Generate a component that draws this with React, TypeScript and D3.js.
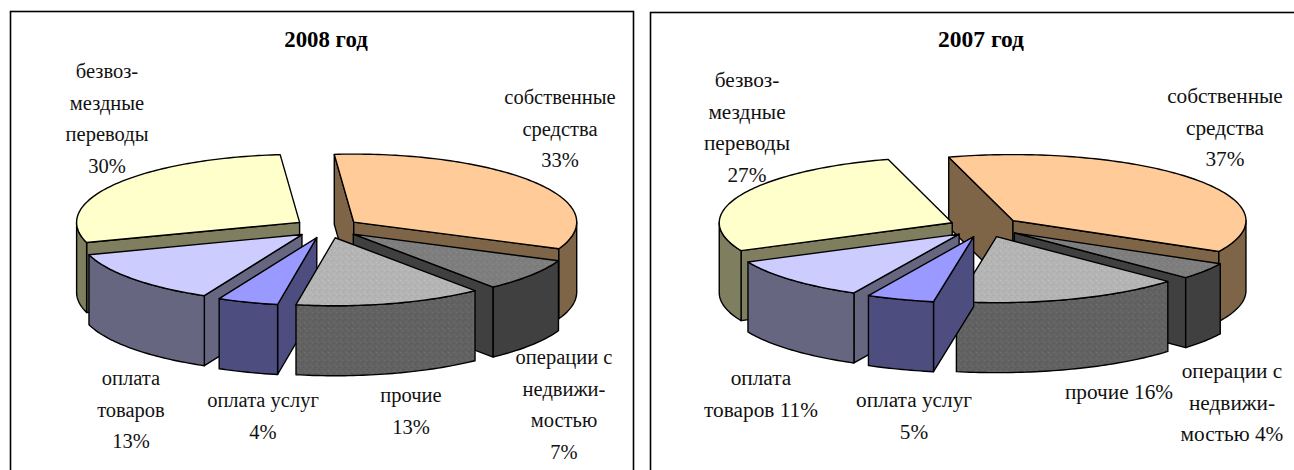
import React from 'react';
import * as d3 from 'd3';

const WIDTH = 1294;
const HEIGHT = 470;

const categories = ['собственные средства', 'операции с недвижимостью', 'прочие', 'оплата услуг', 'оплата товаров', 'безвозмездные переводы'];
// Slice shares (the printed labels are rounded).
const shares2008 = [32.8, 7.8, 13.6, 4.4, 13.0, 28.4];
const shares2007 = [37.2, 4.1, 15.9, 4.7, 10.6, 27.5];
const titles = ['2008 год', '2007 год'];

const labelLines2008 = [
  ['собственные', 'средства', '33%'],
  ['операции с', 'недвижи-', 'мостью', '7%'],
  ['прочие', '13%'],
  ['оплата услуг', '4%'],
  ['оплата', 'товаров', '13%'],
  ['безвоз-', 'мездные', 'переводы', '30%'],
];
const labelLines2007 = [
  ['собственные', 'средства', '37%'],
  ['операции с', 'недвижи-', 'мостью 4%'],
  ['прочие 16%'],
  ['оплата услуг', '5%'],
  ['оплата', 'товаров 11%'],
  ['безвоз-', 'мездные', 'переводы', '27%'],
];

const topFills = ['#FFCC99', 'url(#texOpsTop)', 'url(#texOtherTop)', '#9999FF', '#CCCCFF', '#FFFFCC'];
const sideFills = ['#7F6547', '#404040', 'url(#texOtherSide)', '#4D4D80', '#666680', '#7F7F5F'];

const layouts = [
  {
    box: [10.5, 11.5, 623, 470], cx: 327, cy: 228, rx: 223, ry: 68, depth: 70, explode: 33, startDeg: -5,
    titleX: 326, titleSize: 22.8, labelSize: 20.5,
    labelAt: [[560, 98], [564, 358], [411, 396], [263, 401], [131, 379], [107, 72]],
    lineGap: 31.5,
  },
  {
    box: [650.5, 12.5, 660, 470], cx: 985, cy: 227, rx: 233, ry: 66, depth: 70, explode: 36, startDeg: -16,
    titleX: 981, titleSize: 23.5, labelSize: 21.3,
    labelAt: [[1225, 97], [1232, 372], [1119, 393], [914, 401], [761, 379], [747, 81]],
    lineGap: 31.5,
  },
];

const toRad = (d: number) => (d * Math.PI) / 180;
const lineGen = d3.line<[number, number]>().x((p) => p[0]).y((p) => p[1]);

function Pie3D({ values, lines, layout, title }: any) {
  const { cx, cy, rx, ry, depth, explode, startDeg, box, titleX, titleSize, labelSize, labelAt, lineGap } = layout;
  const start = toRad(startDeg);
  const slices = d3.pie<number>().sort(null).startAngle(start).endAngle(start + 2 * Math.PI)(values);
  const k = ry / rx;

  const parts = slices.map((s: any, i: number) => {
    const mid = (s.startAngle + s.endAngle) / 2;
    const ax = cx + explode * Math.sin(mid);
    const ay = cy - explode * k * Math.cos(mid);
    const at = (a: number): [number, number] => [ax + rx * Math.sin(a), ay - ry * Math.cos(a)];
    const sweep = (a0: number, a1: number) => {
      const n = Math.max(2, Math.ceil(Math.abs(a1 - a0) / 0.02));
      return d3.range(n + 1).map((j) => at(a0 + ((a1 - a0) * j) / n));
    };
    const down = (p: [number, number]): [number, number] => [p[0], p[1] + depth];
    const apex: [number, number] = [ax, ay];
    const top = [apex, ...sweep(s.startAngle, s.endAngle)];
    const walls: [number, number][][] = [];
    const pS = at(s.startAngle);
    const pE = at(s.endAngle);
    if (pS[0] < apex[0]) walls.push([apex, pS, down(pS), down(apex)]);
    if (pE[0] > apex[0]) walls.push([pE, apex, down(apex), down(pE)]);
    const f0 = Math.max(s.startAngle, Math.PI / 2);
    const f1 = Math.min(s.endAngle, (3 * Math.PI) / 2);
    if (f1 > f0) {
      const arc = sweep(f0, f1);
      walls.push([...arc, ...arc.slice().reverse().map(down)]);
    }
    return { i, mid, top, walls };
  });
  const order = parts.slice().sort((a: any, b: any) => d3.descending(Math.cos(a.mid), Math.cos(b.mid)));

  return (
    <g>
      <rect x={box[0]} y={box[1]} width={box[2]} height={box[3]} fill="#fff" stroke="#000" strokeWidth={1.6} />
      <text x={titleX} y={47} textAnchor="middle" fontFamily="'Liberation Serif', serif" fontWeight="bold" fontSize={titleSize} fill="#000">{title}</text>
      {order.map((p: any) => (
        <g key={p.i} stroke="#000" strokeWidth={1.4} strokeLinejoin="round">
          {p.walls.map((w: any, j: number) => (
            <path key={j} d={lineGen(w) + 'Z'} fill={sideFills[p.i]} />
          ))}
          <path d={lineGen(p.top) + 'Z'} fill={topFills[p.i]} />
        </g>
      ))}
      {lines.map((ls: string[], i: number) => (
        <text key={i} textAnchor="middle" fontFamily="'Liberation Serif', serif" fontSize={labelSize} fill="#111">
          {ls.map((t, j) => (
            <tspan key={j} x={labelAt[i][0]} y={labelAt[i][1] + j * lineGap + 6}>{t}</tspan>
          ))}
        </text>
      ))}
    </g>
  );
}

function Speckle({ id, base, light, dark }: any) {
  return (
    <pattern id={id} width={6} height={6} patternUnits="userSpaceOnUse">
      <rect width={6} height={6} fill={base} />
      <rect x={0} y={0} width={1} height={1} fill={light} />
      <rect x={3} y={1} width={1} height={1} fill={dark} />
      <rect x={1} y={3} width={1} height={1} fill={dark} />
      <rect x={4} y={4} width={1} height={1} fill={light} />
    </pattern>
  );
}

export default function App() {
  return (
    <svg width={WIDTH} height={HEIGHT} style={{ position: 'absolute', left: 0, top: 0 }} aria-label={categories.join(', ')}>
      <defs>
        <Speckle id="texOpsTop" base="#7E7E7E" light="#8C8C8C" dark="#747474" />
        <Speckle id="texOtherTop" base="#B4B4B4" light="#C4C4C4" dark="#A8A8A8" />
        <Speckle id="texOtherSide" base="#626262" light="#727272" dark="#565656" />
      </defs>
      <Pie3D values={shares2008} lines={labelLines2008} layout={layouts[0]} title={titles[0]} />
      <Pie3D values={shares2007} lines={labelLines2007} layout={layouts[1]} title={titles[1]} />
    </svg>
  );
}
